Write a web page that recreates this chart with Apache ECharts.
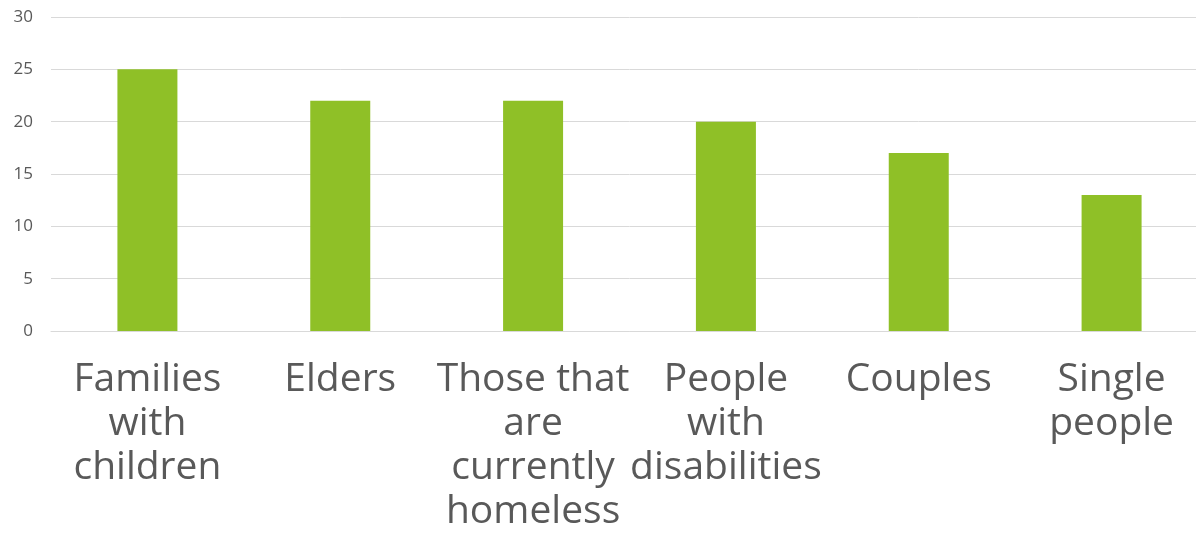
<!DOCTYPE html>
<html><head><meta charset="utf-8">
<script src="https://cdn.jsdelivr.net/npm/echarts@6/dist/echarts.min.js"></script>
<style>html,body{margin:0;padding:0;background:#fff;overflow:hidden}#c{width:1210px;height:535px}</style>
</head><body><div id="c"></div>
<script>
const categories = ["Families with children","Elders","Those that are currently homeless","People with disabilities","Couples","Single people"];
const tickLabels = ["Families\nwith\nchildren","Elders","Those that\nare\ncurrently\nhomeless","People\nwith\ndisabilities","Couples","Single\npeople"];
const values = [25,22,22,20,17,13];
const yTicks = [0,5,10,15,20,25,30];
const chart = echarts.init(document.getElementById('c'));
chart.setOption({
  animation:false,
  grid:{left:51,right:2,top:17,height:314},
  xAxis:{type:'category',data:categories,
    axisLine:{show:true,lineStyle:{color:'#d9d9d9',width:1}},
    axisTick:{show:false},
    axisLabel:{interval:0,margin:27,color:'#595959',fontSize:39,lineHeight:44,fontFamily:'Open Sans',
      formatter:(v,i)=>tickLabels[i]}},
  yAxis:{type:'value',min:0,max:30,interval:5,
    axisLine:{show:false},axisTick:{show:false},
    splitLine:{lineStyle:{color:'#d9d9d9',width:1}},
    axisLabel:{color:'#595959',fontSize:17,fontFamily:'Open Sans',margin:18,
      formatter:v=>yTicks.includes(v)?String(v):''}},
  series:[{type:'bar',data:values,barWidth:60,itemStyle:{color:'#8fc027'}}]
});
</script></body></html>
